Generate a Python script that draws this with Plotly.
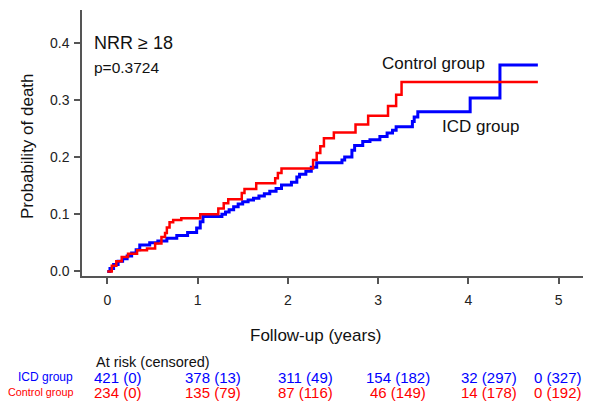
import plotly.graph_objects as go

# ---------------- data ----------------
icd_t = [0, 0.03, 0.07, 0.12, 0.17, 0.22, 0.27, 0.32, 0.36, 0.47, 0.56, 0.66, 0.77, 0.89,
         0.99, 1.03, 1.06, 1.27, 1.31, 1.35, 1.40, 1.45, 1.50, 1.56, 1.62, 1.68, 1.74, 1.80,
         1.87, 1.93, 2.04, 2.10, 2.13, 2.20, 2.26, 2.32, 2.60, 2.63, 2.71, 2.74, 2.83, 2.91,
         3.02, 3.10, 3.16, 3.20, 3.38, 3.40, 3.44, 4.02, 4.35, 4.77]
icd_y = [0, 0.005, 0.012, 0.018, 0.022, 0.027, 0.032, 0.038, 0.046, 0.050, 0.053, 0.058, 0.063, 0.068,
         0.076, 0.087, 0.096, 0.100, 0.104, 0.108, 0.113, 0.118, 0.122, 0.125, 0.128, 0.132, 0.136, 0.140,
         0.145, 0.151, 0.156, 0.165, 0.170, 0.175, 0.182, 0.190, 0.195, 0.200, 0.212, 0.220, 0.227, 0.230,
         0.236, 0.242, 0.247, 0.253, 0.262, 0.270, 0.279, 0.303, 0.361, 0.361]

ctrl_t = [0, 0.05, 0.10, 0.16, 0.23, 0.33, 0.44, 0.53, 0.60, 0.64, 0.66, 0.69, 0.73, 0.82,
          1.03, 1.23, 1.29, 1.34, 1.49, 1.52, 1.65, 1.86, 1.89, 1.93, 2.28, 2.32, 2.36, 2.40,
          2.51, 2.75, 2.89, 3.11, 3.20, 3.26, 4.77]
ctrl_y = [0, 0.010, 0.018, 0.025, 0.031, 0.037, 0.040, 0.049, 0.060, 0.067, 0.077, 0.086, 0.090, 0.093,
          0.100, 0.110, 0.119, 0.126, 0.137, 0.144, 0.154, 0.163, 0.172, 0.180, 0.195, 0.207, 0.219, 0.233,
          0.243, 0.257, 0.272, 0.289, 0.309, 0.331, 0.331]

x_ticks = [0, 1, 2, 3, 4, 5]
y_ticks = [0.0, 0.1, 0.2, 0.3, 0.4]

groups = ["ICD group", "Control group"]
icd_risk = ["421 (0)", "378 (13)", "311 (49)", "154 (182)", "32 (297)", "0 (327)"]
ctrl_risk = ["234 (0)", "135 (79)", "87 (116)", "46 (149)", "14 (178)", "0 (192)"]

# ---------------- style / layout ----------------
BLUE = "#0000ff"
RED = "#ff0000"
AXC = "#555555"
FONT = "Arial, Liberation Sans, sans-serif"

risk_cols_x = [0.124, 1.176, 2.20, 3.226, 4.233, 4.992]  # column centers in data x units

fig = go.Figure()
fig.add_trace(go.Scatter(x=icd_t, y=icd_y, mode="lines", line=dict(color=BLUE, width=3, shape="hv"),
                         name=groups[0], showlegend=False, hoverinfo="skip"))
fig.add_trace(go.Scatter(x=ctrl_t, y=ctrl_y, mode="lines", line=dict(color=RED, width=2.5, shape="hv"),
                         name=groups[1], showlegend=False, hoverinfo="skip"))

# page body has an 8px margin, so the figure is made 8px smaller and margins shifted
fig.update_layout(
    width=587, height=393,
    margin=dict(l=74, r=12, t=2, b=125),
    plot_bgcolor="white", paper_bgcolor="white",
    font=dict(family=FONT, color="#222222"),
    xaxis=dict(range=[-0.28, 5.27], tickvals=x_ticks, showgrid=False, zeroline=False,
               showline=True, linecolor=AXC, linewidth=1.5, ticks="outside", ticklen=6,
               tickcolor=AXC, tickwidth=1.5, tickfont=dict(size=14, color="#222222"),
               ticklabelstandoff=4),
    yaxis=dict(range=[-0.008, 0.457], tickvals=y_ticks, tickformat=".1f", showgrid=False,
               zeroline=False, showline=True, linecolor=AXC, linewidth=1.5, ticks="outside",
               ticklen=6, tickcolor=AXC, tickwidth=1.5, tickfont=dict(size=14, color="#222222"),
               ticklabelstandoff=2),
)

def ann(text, x, y, size, color="#111111", xanchor="left", xref="paper", family=FONT, angle=0):
    fig.add_annotation(text=text, x=x, y=y, xref=xref, yref="paper", xanchor=xanchor,
                       yanchor="middle", showarrow=False, textangle=angle,
                       font=dict(size=size, color=color, family=family))

def px_x(p):
    return (p - 82) / 501

def px_y(p):
    return (276 - p) / 266

# in-plot labels
ann("NRR \u2265 18", px_x(92), px_y(43), 18)
ann("p=0.3724", px_x(92), px_y(67), 15.5)
ann("Control group", px_x(380), px_y(63), 17)
ann("ICD group", px_x(440), px_y(126), 17)

# axis titles
ann("Probability of death", px_x(27), px_y(146), 17, xanchor="center", angle=-90)
ann("Follow-up (years)", px_x(315.5), px_y(335), 17, xanchor="center")

# at-risk table
ann("At risk (censored)", px_x(94), px_y(362), 14.5)
ann(groups[0], px_x(75), px_y(377), 12, color=BLUE, xanchor="right")
ann(groups[1], px_x(75), px_y(392), 10.8, color=RED, xanchor="right")
for xc, a, b in zip(risk_cols_x, icd_risk, ctrl_risk):
    ann(a, xc, px_y(377), 15, color=BLUE, xanchor="center", xref="x")
    ann(b, xc, px_y(392), 15, color=RED, xanchor="center", xref="x")

fig.write_html("out.html")
